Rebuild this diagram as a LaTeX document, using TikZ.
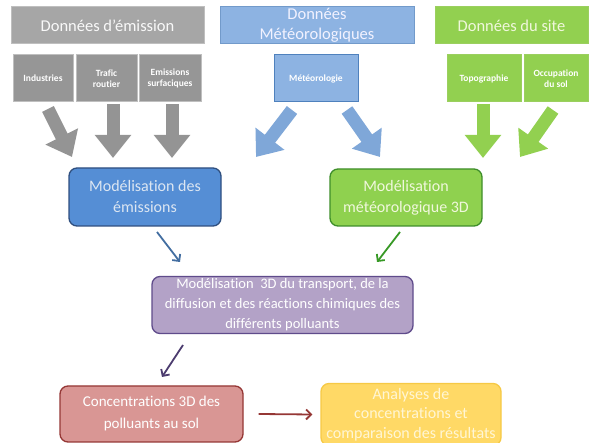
\documentclass[tikz,border=0pt]{standalone}
\usepackage{fontspec}
\setmainfont{Carlito}[Ligatures=NoCommon]
\usetikzlibrary{arrows.meta}

\definecolor{grayhead}{HTML}{A6A6A6}
\definecolor{grayheadline}{HTML}{BFBFBF}
\definecolor{graysub}{HTML}{969696}
\definecolor{grayarrow}{HTML}{949494}
\definecolor{bluehead}{HTML}{8DB3E2}
\definecolor{blueline}{HTML}{4F81BD}
\definecolor{bluearrow}{HTML}{7FA7D8}
\definecolor{greenhead}{HTML}{92D050}
\definecolor{greenline}{HTML}{9BCF5F}
\definecolor{greentext}{HTML}{F0F7DC}
\definecolor{bluebox}{HTML}{558ED5}
\definecolor{blueboxline}{HTML}{2F4F7F}
\definecolor{blueboxtext}{HTML}{DCE6F2}
\definecolor{greenbox}{HTML}{8FD14F}
\definecolor{greenboxline}{HTML}{3E8E2A}
\definecolor{purplebox}{HTML}{B3A2C7}
\definecolor{purpleline}{HTML}{5F4B8B}
\definecolor{redbox}{HTML}{D99694}
\definecolor{redline}{HTML}{953735}
\definecolor{yellowbox}{HTML}{FFD966}
\definecolor{yellowline}{HTML}{F6C945}
\definecolor{yellowtext}{HTML}{FFF6D5}

\tikzset{
  headbox/.style={draw, line width=1pt, minimum height=37pt, align=center,
    font=\fontsize{16.5}{20}\selectfont, inner sep=0pt},
  subbox/.style={draw, line width=1pt, minimum height=47pt, align=center,
    font=\fontsize{9.5}{11}\selectfont\bfseries, text=white, inner sep=0pt},
  modelbox/.style={draw, line width=1.3pt, rounded corners=8pt, align=center, inner sep=0pt},
  bigarrow/.style={line width=13pt, -{Triangle[width=35pt,length=23pt]}},
  thinarrow/.style={line width=1.8pt, -{Straight Barb[length=5pt,width=10pt]}},
}

\begin{document}
\begin{tikzpicture}[x=1pt, y=-1pt]
\useasboundingbox (0,0) rectangle (590,443);

% data sources
\node[headbox, fill=grayhead, draw=grayheadline, text=white!95!gray, minimum width=193pt]
  (hemis) at (107.5,25.5) {Données d’émission};
\node[headbox, fill=bluehead, draw=blueline!80!white, text=white!95!blue, minimum width=194pt]
  (hmeteo) at (317,25.5) {Données\\Météorologiques};
\node[headbox, fill=greenhead, draw=greenline, text=greentext, minimum width=153pt]
  (hsite) at (511.5,25.5) {Données du site};

\node[subbox, fill=graysub, draw=grayheadline, minimum width=60pt] (ind) at (43,78.5) {Industries};
\node[subbox, fill=graysub, draw=grayheadline, minimum width=61pt] (traf) at (106.5,78.5) {Trafic\\routier};
\node[subbox, fill=graysub, draw=grayheadline, minimum width=62pt] (surf) at (170,78.5) {Emissions\\surfaciques};
\node[subbox, fill=bluehead, draw=blueline, minimum width=84pt] (met) at (316,78.5) {Météorologie};
\node[subbox, fill=greenhead, draw=greenline, minimum width=74pt] (topo) at (484,78.5) {Topographie};
\node[subbox, fill=greenhead, draw=greenline, minimum width=64pt] (occ) at (556,78.5) {Occupation\\du sol};

% modelling steps
\node[modelbox, fill=bluebox, draw=blueboxline, text=blueboxtext, minimum width=152pt, minimum height=58pt,
  font=\fontsize{16}{21}\selectfont]
  (memis) at (145,197) {Modélisation des\\émissions};
\node[modelbox, fill=greenbox, draw=greenboxline, text=greentext, minimum width=152pt, minimum height=57pt,
  font=\fontsize{16}{21}\selectfont]
  (mmeteo) at (406,197.5) {Modélisation\\météorologique 3D};
\node[modelbox, fill=purplebox, draw=purpleline, text=white, minimum width=261pt, minimum height=57pt,
  font=\fontsize{14.5}{20}\selectfont]
  (transp) at (282.5,305) {Modélisation\ \ 3D du transport, de la\\diffusion et des réactions chimiques des\\différents polluants};
\node[modelbox, fill=redbox, draw=redline, text=white, minimum width=183pt, minimum height=56pt,
  font=\fontsize{15}{22}\selectfont]
  (conc) at (151.5,414) {Concentrations 3D des\\polluants au sol};
\node[modelbox, fill=yellowbox, draw=yellowline, text=yellowtext, minimum width=180pt, minimum height=62pt,
  font=\fontsize{16}{19.5}\selectfont]
  (anal) at (411,414.5) {Analyses de\\concentrations et\\comparaison des résultats};

% end points of the block arrows
\coordinate (aind0) at (48,109);   \coordinate (aind1) at (72,157);
\coordinate (atraf0) at (113,104); \coordinate (atraf1) at (113,158);
\coordinate (asurf0) at (172,104); \coordinate (asurf1) at (172,158);
\coordinate (ametl0) at (292,110); \coordinate (ametl1) at (256,157);
\coordinate (ametr0) at (347,110); \coordinate (ametr1) at (380,157);
\coordinate (atopo0) at (483,104); \coordinate (atopo1) at (483,158);
\coordinate (aocc0) at (553,110);  \coordinate (aocc1) at (520,157);

\draw[bigarrow, grayarrow] (aind0) -- (aind1);
\draw[bigarrow, grayarrow] (atraf0) -- (atraf1);
\draw[bigarrow, grayarrow] (asurf0) -- (asurf1);
\draw[bigarrow, bluearrow] (ametl0) -- (ametl1);
\draw[bigarrow, bluearrow] (ametr0) -- (ametr1);
\draw[bigarrow, greenhead] (atopo0) -- (atopo1);
\draw[bigarrow, greenhead] (aocc0) -- (aocc1);

% thin connectors between the modelling steps
\coordinate (t1a) at (157,232); \coordinate (t1b) at (180,262);
\coordinate (t2a) at (400,232); \coordinate (t2b) at (377,262);
\coordinate (t3a) at (183,345); \coordinate (t3b) at (162,377);
\draw[thinarrow, blueline!85!black] (t1a) -- (t1b);
\draw[thinarrow, greenboxline!90!green] (t2a) -- (t2b);
\draw[thinarrow, purpleline!80!black] (t3a) -- (t3b);
\draw[thinarrow, redline] ([xshift=15pt]conc.east) -- ([xshift=-8pt]anal.west);
\end{tikzpicture}
\end{document}
